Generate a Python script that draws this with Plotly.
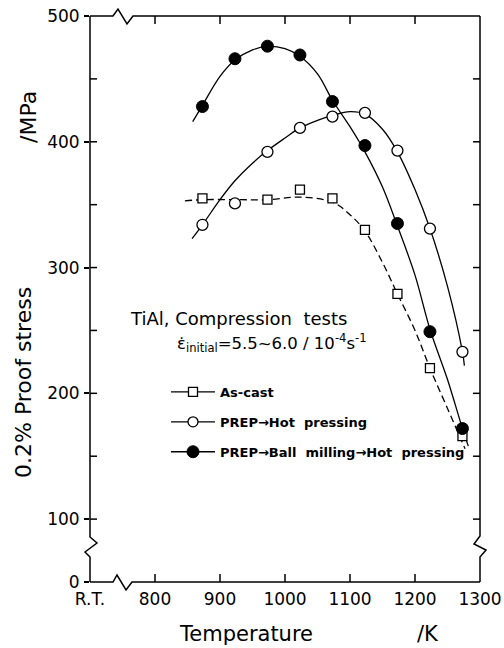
import plotly.graph_objects as go

# ---------------- data ----------------
temps = [873, 923, 973, 1023, 1073, 1123, 1173, 1223, 1273]
ball_stress = [428, 466, 476, 469, 432, 397, 335, 249, 172]
hot_stress = [334, 351, 392, 411, 420, 423, 393, 331, 233]
cast_temps = [873, 973, 1023, 1073, 1123, 1173, 1223, 1273]
cast_stress = [355, 354, 362, 355, 330, 279, 220, 166]

# hand-drawn smooth curves
ball_curve_t = [858, 873, 900, 923, 950, 973, 1000, 1023, 1050, 1073, 1100, 1123, 1150, 1173, 1200, 1223, 1250, 1273, 1282]
ball_curve_v = [416, 429, 452, 465, 473, 476, 474, 468, 454, 433, 412, 392, 364, 333, 294, 251, 211, 172, 158]
hot_curve_t = [857, 873, 900, 923, 950, 973, 1000, 1023, 1050, 1073, 1100, 1123, 1150, 1173, 1200, 1223, 1250, 1273, 1276]
hot_curve_v = [323, 334, 354, 369, 383, 393, 403, 411, 417, 421, 424, 422, 410, 392, 362, 331, 285, 233, 222]
cast_curve_t = [846, 873, 923, 973, 1023, 1073, 1100, 1123, 1150, 1173, 1200, 1223, 1250, 1277]
cast_curve_v = [353, 354, 354, 354, 356, 352, 342, 329, 304, 279, 250, 220, 188, 156]

x_range = [700, 1300]
y_range = [50, 500]
x_tickvals = [700, 800, 900, 1000, 1100, 1200, 1300]
x_ticktext = ["R.T.", "800", "900", "1000", "1100", "1200", "1300"]
x_inner_ticks = [800, 900, 1000, 1100, 1200]
y_tickvals = [50, 100, 200, 300, 400, 500]
y_ticktext = ["0", "100", "200", "300", "400", "500"]
y_inner_ticks = [100, 150, 200, 250, 300, 350, 400, 450]

series_names = ["As-cast", "PREP\u2192Hot  pressing", "PREP\u2192Ball  milling\u2192Hot  pressing"]

FONT = "DejaVu Sans"
W, H = 504, 648
L, R, T, B = 90, 480, 16, 582


def px(x):
    return (x - L) / (R - L)


def py(y):
    return (B - y) / (B - T)


def path(points):
    return "M " + " L ".join(f"{px(x):.5f},{py(y):.5f}" for x, y in points)


fig = go.Figure()

# inward tick marks (as a line trace in data units; lengths 7-8 px)
kx = (x_range[1] - x_range[0]) / (R - L)
ky = (y_range[1] - y_range[0]) / (B - T)
tx, ty = [], []
for xv in x_inner_ticks:
    tx += [xv, xv, None, xv, xv, None]
    ty += [y_range[0], y_range[0] + 8 * ky, None, y_range[1], y_range[1] - 8 * ky, None]
for yv in y_inner_ticks:
    tx += [x_range[0], x_range[0] + 7 * kx, None, x_range[1], x_range[1] - 7 * kx, None]
    ty += [yv, yv, None, yv, yv, None]
fig.add_trace(go.Scatter(x=tx, y=ty, mode="lines", line=dict(color="black", width=1.5),
                         showlegend=False, hoverinfo="skip", cliponaxis=False, connectgaps=False))

line_style = dict(color="black", width=1.3, shape="spline")
fig.add_trace(go.Scatter(x=cast_curve_t, y=cast_curve_v, mode="lines",
                         line=dict(**line_style, dash="7px,4px"), showlegend=False, hoverinfo="skip"))
fig.add_trace(go.Scatter(x=hot_curve_t, y=hot_curve_v, mode="lines",
                         line=line_style, showlegend=False, hoverinfo="skip"))
fig.add_trace(go.Scatter(x=ball_curve_t, y=ball_curve_v, mode="lines",
                         line=line_style, showlegend=False, hoverinfo="skip"))

fig.add_trace(go.Scatter(x=cast_temps, y=cast_stress, mode="markers", showlegend=False,
                         marker=dict(symbol="square", size=9, color="white",
                                     line=dict(color="black", width=1.3))))
fig.add_trace(go.Scatter(x=temps, y=hot_stress, mode="markers", showlegend=False,
                         marker=dict(symbol="circle", size=11, color="white",
                                     line=dict(color="black", width=1.3))))
fig.add_trace(go.Scatter(x=temps, y=ball_stress, mode="markers", showlegend=False,
                         marker=dict(symbol="circle", size=12, color="black",
                                     line=dict(color="black", width=1))))

# legend entries
leg_markers = [dict(symbol="square", size=9, color="white", line=dict(color="black", width=1.3)),
               dict(symbol="circle", size=10, color="white", line=dict(color="black", width=1.3)),
               dict(symbol="circle", size=12, color="black", line=dict(color="black", width=1))]
for i, (nm, mk) in enumerate(zip(series_names, leg_markers)):
    fig.add_trace(go.Scatter(x=[None], y=[None], mode="lines+markers", name=nm,
                             legendgroup=f"g{i}", marker=mk,
                             line=dict(color="black", width=1.3)))

axis_common = dict(showgrid=False, zeroline=False, tickcolor="#000000",
                   showline=False, tickfont=dict(family=FONT, size=17, color="black"))

fig.update_layout(
    template="none",
    width=W, height=H,
    margin=dict(l=L, r=W - R, t=T, b=H - B),
    paper_bgcolor="white", plot_bgcolor="rgba(0,0,0,0)",
    xaxis=dict(range=x_range, tickmode="array", tickvals=x_tickvals, ticktext=x_ticktext,
               ticks="", ticklabelstandoff=5, **axis_common),
    yaxis=dict(range=y_range, tickmode="array", tickvals=y_tickvals, ticktext=y_ticktext,
               ticks="outside", ticklen=5, tickwidth=1.5, ticklabelstandoff=1, **axis_common),
    legend=dict(x=px(166), xanchor="left", y=py(377), yanchor="top",
                bgcolor="rgba(0,0,0,0)", borderwidth=0,
                font=dict(family=FONT, size=13, color="black", weight="bold"),
                traceorder="grouped", tracegroupgap=10, itemwidth=44),
    showlegend=True,
)

# frame with axis-break zigzags
frame_style = dict(type="path", xref="paper", yref="paper", line=dict(color="black", width=1.5),
                   fillcolor="rgba(0,0,0,0)", layer="above")
fig.add_shape(path=path([(L, T), (113, T), (118, T - 7), (127, T + 8), (133, T), (R, T)]), **frame_style)
fig.add_shape(path=path([(L, B), (113, B), (117, B - 7), (126, B + 8), (132, B), (R, B)]), **frame_style)
fig.add_shape(path=path([(L, T), (L, 537), (L + 7, 543), (L - 5, 552), (L, 557), (L, B)]), **frame_style)
fig.add_shape(path=path([(R, T), (R, 536), (R - 6, 544), (R + 6, 550), (R, 557), (R, B)]), **frame_style)

# texts
def ann(text, x, y, size, angle=0, **kw):
    fig.add_annotation(text=text, x=px(x), y=py(y), xref="paper", yref="paper",
                       showarrow=False, textangle=angle, xanchor="center", yanchor="middle",
                       font=dict(family=FONT, size=size, color="black"), **kw)

ann("0.2% Proof stress", 24, 383, 22, angle=-90)
ann("/MPa", 28, 117, 22, angle=-90)
ann("Temperature", 246, 634, 21)
ann("/K", 428, 634, 21)
ann("TiAl, Compression  tests", 238, 318, 18)
ann("\u03b5\u0307<sub>initial</sub>=5.5~6.0 / 10<sup>-4</sup>s<sup>-1</sup>", 272, 343, 16.5)

fig.write_html("out.html")
